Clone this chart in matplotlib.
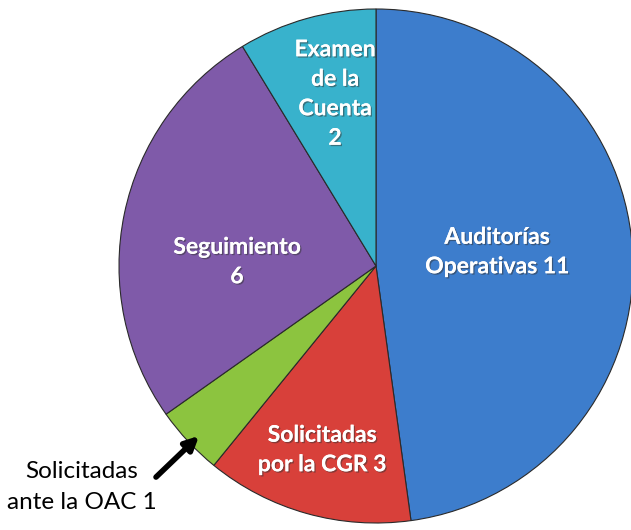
import matplotlib.pyplot as plt
import matplotlib.patheffects as pe

labels = ["Auditorías\nOperativas 11", "Solicitadas\npor la CGR 3", "", "Seguimiento\n6", "Examen\nde la\nCuenta\n2"]
values = [11, 3, 1, 6, 2]
colors = ["#3d7dcc", "#d8403a", "#8cc43f", "#7f5aa9", "#38b2cc"]
outside_label = "Solicitadas\nante la OAC 1"

plt.rcParams['font.family'] = ['Lato', 'DejaVu Sans']

fig = plt.figure(figsize=(6.31, 5.30), dpi=100)
ax = fig.add_axes([0, 0, 1, 1])

wedges, texts = ax.pie(values, colors=colors, startangle=90, counterclock=False,
                       center=(376, 264), radius=257,
                       wedgeprops=dict(edgecolor='#2a2a2a', linewidth=0.8))
# pie resets the limits, so set them afterwards
ax.set_xlim(0, 631)
ax.set_ylim(0, 530)
ax.set_aspect('equal')
ax.axis('off')

# label positions inside slices (pixel coords, y up)
label_pos = [(497, 278), (322, 80), None, (237, 268), (335, 436)]
shadow = [pe.withSimplePatchShadow(offset=(1, -1), shadow_rgbFace='#333333', alpha=0.5), pe.Normal()]
for lab, pos in zip(labels, label_pos):
    if pos is None:
        continue
    ax.text(pos[0], pos[1], lab, ha='center', va='center', color='white',
            fontsize=16.5, fontweight='bold', linespacing=1.5, path_effects=shadow)

ax.text(82, 43, outside_label, ha='center', va='center', color='black',
        fontsize=17.5, linespacing=1.55)
ax.annotate("", xy=(201, 96), xytext=(154, 51),
            arrowprops=dict(arrowstyle='-|>', color='black', lw=4, mutation_scale=20))

fig.savefig("out.png", dpi=100)
